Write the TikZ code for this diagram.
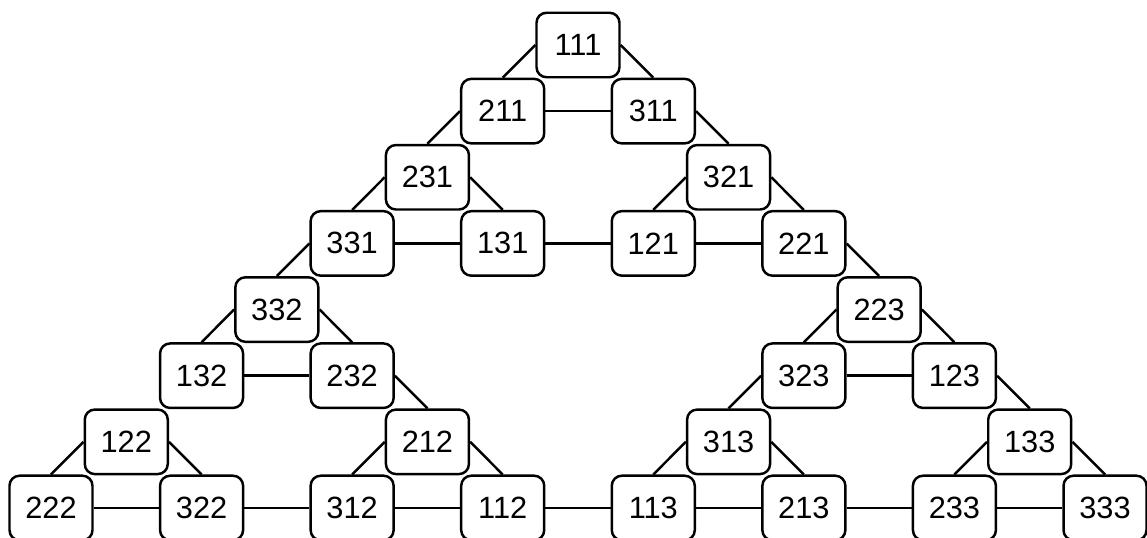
\documentclass[tikz,border=0pt]{standalone}
\usepackage{fontspec}
\setmainfont{Liberation Sans}

\begin{document}
\begin{tikzpicture}[
    x=1.506cm, y=1.323cm,
    line width=1.4pt,
    every node/.style={draw, rounded corners=0.2cm, minimum width=1.66cm,
        minimum height=1.29cm, inner sep=0pt, font=\fontsize{17.5}{20}\selectfont}
]
\useasboundingbox (-1.02cm,0.9cm) rectangle (21.924cm,-9.86cm);

% Level 0
\node (111) at (7,0) {111};

% Level 1
\node (211) at (6,-1) {211};
\node (311) at (8,-1) {311};

% Level 2
\node (231) at (5,-2) {231};
\node (321) at (9,-2) {321};

% Level 3
\node (331) at (4,-3) {331};
\node (131) at (6,-3) {131};
\node (121) at (8,-3) {121};
\node (221) at (10,-3) {221};

% Level 4
\node (332) at (3,-4) {332};
\node (223) at (11,-4) {223};

% Level 5
\node (132) at (2,-5) {132};
\node (232) at (4,-5) {232};
\node (323) at (10,-5) {323};
\node (123) at (12,-5) {123};

% Level 6
\node (122) at (1,-6) {122};
\node (212) at (5,-6) {212};
\node (313) at (9,-6) {313};
\node (133) at (13,-6) {133};

% Level 7
\node (222) at (0,-7) {222};
\node (322) at (2,-7) {322};
\node (312) at (4,-7) {312};
\node (112) at (6,-7) {112};
\node (113) at (8,-7) {113};
\node (213) at (10,-7) {213};
\node (233) at (12,-7) {233};
\node (333) at (14,-7) {333};

% Small triangles
\draw (111.west)--(211.north);
\draw (111.east)--(311.north);
\draw (211.east)--(311.west);

\draw (231.west)--(331.north);
\draw (231.east)--(131.north);
\draw (331.east)--(131.west);

\draw (321.west)--(121.north);
\draw (321.east)--(221.north);
\draw (121.east)--(221.west);

\draw (332.west)--(132.north);
\draw (332.east)--(232.north);
\draw (132.east)--(232.west);

\draw (122.west)--(222.north);
\draw (122.east)--(322.north);
\draw (222.east)--(322.west);

\draw (212.west)--(312.north);
\draw (212.east)--(112.north);
\draw (312.east)--(112.west);

\draw (223.west)--(323.north);
\draw (223.east)--(123.north);
\draw (323.east)--(123.west);

\draw (313.west)--(113.north);
\draw (313.east)--(213.north);
\draw (113.east)--(213.west);

\draw (133.west)--(233.north);
\draw (133.east)--(333.north);
\draw (233.east)--(333.west);

% Links between triangles
\draw (211.west)--(231.north);
\draw (311.east)--(321.north);
\draw (131.east)--(121.west);

\draw (331.west)--(332.north);
\draw (232.east)--(212.north);
\draw (322.east)--(312.west);

\draw (221.east)--(223.north);
\draw (323.west)--(313.north);
\draw (123.east)--(133.north);
\draw (213.east)--(233.west);

\draw (112.east)--(113.west);

\end{tikzpicture}
\end{document}
